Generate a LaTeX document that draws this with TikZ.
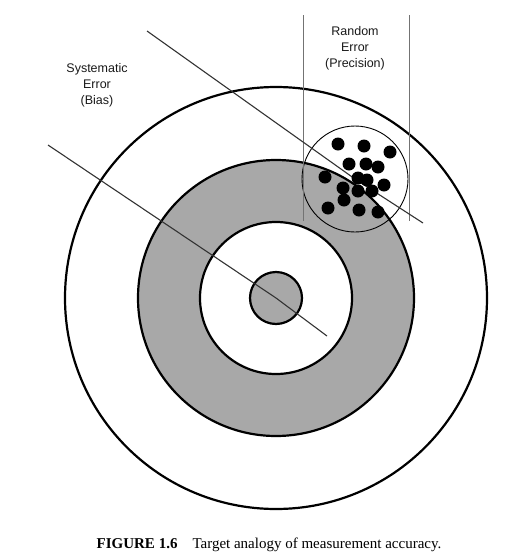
\documentclass[tikz,border=0pt]{standalone}
\usepackage{fontspec}
\setmainfont{Liberation Serif}
\setsansfont{Liberation Sans}
\begin{document}
\begin{tikzpicture}[
    x=1pt, y=-1pt,
    every node/.style={inner sep=0pt, outer sep=0pt},
    ring/.style={draw, circle, line width=2.2pt},
    spread/.style={draw, circle, line width=0.9pt, minimum size=106pt},
    shot/.style={fill, circle, minimum size=13pt},
    aim/.style={draw=black!80, line width=1.1pt},
    bound/.style={draw=black!55, line width=1pt},
    errtext/.style={font=\sffamily\fontsize{12.5}{16}\selectfont, align=center, text=black!90},
    caption/.style={font=\fontsize{15}{17}\selectfont}
]
\useasboundingbox (0,0) rectangle (526,560);

% terc
\node[ring, fill=white, minimum size=422pt] (outer) at (276,298) {};
\node[ring, fill=black!34, minimum size=276pt] (band) at (276,298) {};
\node[ring, fill=white, minimum size=152pt] (inner) at (276,298) {};
\node[ring, fill=black!34, minimum size=52pt] (bull) at (276,298) {};

% rozptyl zásahů
\node[spread] (cluster) at (355,179) {};

% hranice rozptylu
\coordinate (bl1) at (303,15);
\coordinate (bl2) at (303,221);
\coordinate (br1) at (409,15);
\coordinate (br2) at (409,221);
\draw[bound] (bl1) -- (bl2);
\draw[bound] (br1) -- (br2);

% osy (střed terče, střed zásahů)
\coordinate (a1) at (147,31);
\coordinate (a2) at (423,223);
\coordinate (b1) at (48,145);
\coordinate (b2) at (327,336);
\draw[aim] (a1) -- (cluster.center) -- (a2);
\draw[aim] (b1) -- (bull.center) -- (b2);

% zásahy
\node[shot] (s1) at (338,144) {};
\node[shot] (s2) at (364,146) {};
\node[shot] (s3) at (390,152) {};
\node[shot] (s4) at (349,164) {};
\node[shot] (s5) at (366,164) {};
\node[shot] (s6) at (378,167) {};
\node[shot] (s7) at (325,177) {};
\node[shot] (s8) at (358,178) {};
\node[shot] (s9) at (367,180) {};
\node[shot] (s10) at (384,185) {};
\node[shot] (s11) at (343,188) {};
\node[shot] (s12) at (358,191) {};
\node[shot] (s13) at (372,191) {};
\node[shot] (s14) at (344,200) {};
\node[shot] (s15) at (328,208) {};
\node[shot] (s16) at (359,210) {};
\node[shot] (s17) at (378,212) {};

% popisky
\node[errtext] (bias) at (97,85) {Systematic\\Error\\(Bias)};
\node[errtext] (precision) at (355,48) {Random\\Error\\(Precision)};

% titulek
\node[caption] (title) at (269,545) {\textbf{FIGURE 1.6}\quad Target analogy of measurement accuracy.};

\end{tikzpicture}
\end{document}
